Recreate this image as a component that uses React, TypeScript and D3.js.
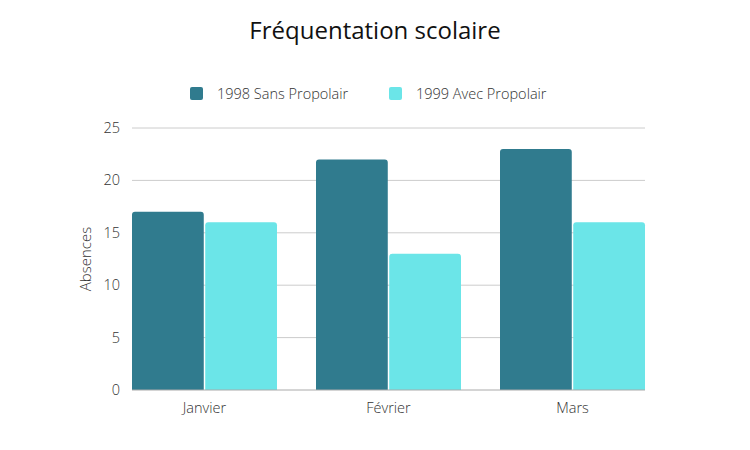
import React, { useEffect, useRef } from 'react';
import * as d3 from 'd3';

const months = ['Janvier', 'Février', 'Mars'];
const seriesNames = ['1998 Sans Propolair', '1999 Avec Propolair'];
const sans1998 = [17, 22, 23];
const avec1999 = [16, 13, 16];
const yTicks = [0, 5, 10, 15, 20, 25];
const colors = ['#307B8E', '#6BE5E8'];

const W = 750;
const H = 450;
const margin = { top: 128, right: 105, bottom: 60, left: 132 };

const App: React.FC = () => {
  const svgRef = useRef<SVGSVGElement>(null);

  useEffect(() => {
    if (!svgRef.current) return;
    const svg = d3.select(svgRef.current);
    svg.selectAll('*').remove();

    const font = "'Open Sans', sans-serif";
    const innerW = W - margin.left - margin.right;
    const innerH = H - margin.top - margin.bottom;

    const x0 = d3.scaleBand<string>().domain(months).range([0, innerW]).paddingInner(0.212).paddingOuter(0);
    const x1 = d3.scaleBand<number>().domain([0, 1]).range([0, x0.bandwidth()]).paddingInner(0.02);
    const y = d3.scaleLinear().domain([0, 25]).range([innerH, 0]);

    // title
    svg.append('text')
      .attr('x', W / 2)
      .attr('y', 39)
      .attr('text-anchor', 'middle')
      .style('font-family', font)
      .style('font-size', '24px')
      .style('fill', '#111')
      .text('Fréquentation scolaire');

    // legend
    const legendX = [190, 389];
    seriesNames.forEach((name, i) => {
      const g = svg.append('g').attr('transform', `translate(${legendX[i]},87)`);
      g.append('rect').attr('width', 13).attr('height', 13).attr('rx', 2).style('fill', colors[i]);
      g.append('text')
        .attr('x', 27)
        .attr('y', 12)
        .style('font-family', font)
        .style('font-size', '14.5px')
        .style('font-weight', 300)
        .style('fill', '#333')
        .text(name);
    });

    const g = svg.append('g').attr('transform', `translate(${margin.left},${margin.top})`);

    // grid
    g.selectAll('.grid')
      .data(yTicks.slice(1))
      .enter()
      .append('line')
      .attr('x1', 0)
      .attr('x2', innerW)
      .attr('y1', d => y(d))
      .attr('y2', d => y(d))
      .style('stroke', '#ccc')
      .style('stroke-width', 1);

    g.selectAll('.ytick')
      .data(yTicks)
      .enter()
      .append('text')
      .attr('x', -12)
      .attr('y', d => y(d))
      .attr('dy', '0.35em')
      .attr('text-anchor', 'end')
      .style('font-family', font)
      .style('font-size', '14.5px')
      .style('font-weight', 300)
      .style('fill', '#333')
      .text(d => d);

    // bars, rounded at the top
    const values = [sans1998, avec1999];
    const r = 3;
    months.forEach((m, mi) => {
      values.forEach((vals, si) => {
        const bx = (x0(m) ?? 0) + (x1(si) ?? 0);
        const bw = x1.bandwidth();
        const by = y(vals[mi]);
        const p = d3.path();
        p.moveTo(bx, innerH);
        p.lineTo(bx, by + r);
        p.arcTo(bx, by, bx + r, by, r);
        p.lineTo(bx + bw - r, by);
        p.arcTo(bx + bw, by, bx + bw, by + r, r);
        p.lineTo(bx + bw, innerH);
        p.closePath();
        g.append('path').attr('d', p.toString()).style('fill', colors[si]);
      });
    });

    // baseline
    g.append('line')
      .attr('x1', 0)
      .attr('x2', innerW)
      .attr('y1', innerH)
      .attr('y2', innerH)
      .style('stroke', '#aaa')
      .style('stroke-width', 1);

    // x labels
    g.selectAll('.xlabel')
      .data(months)
      .enter()
      .append('text')
      .attr('x', d => (x0(d) ?? 0) + x0.bandwidth() / 2)
      .attr('y', innerH + 23)
      .attr('text-anchor', 'middle')
      .style('font-family', font)
      .style('font-size', '14.5px')
      .style('font-weight', 300)
      .style('fill', '#333')
      .text(d => d);

    // y axis title
    svg.append('text')
      .attr('transform', `translate(91,${margin.top + innerH / 2}) rotate(-90)`)
      .attr('text-anchor', 'middle')
      .style('font-family', font)
      .style('font-size', '15px')
      .style('font-weight', 300)
      .style('fill', '#333')
      .text('Absences');
  }, []);

  return <svg ref={svgRef} width={W} height={H} style={{ display: 'block', margin: '-8px' }} />;
};

export default App;
